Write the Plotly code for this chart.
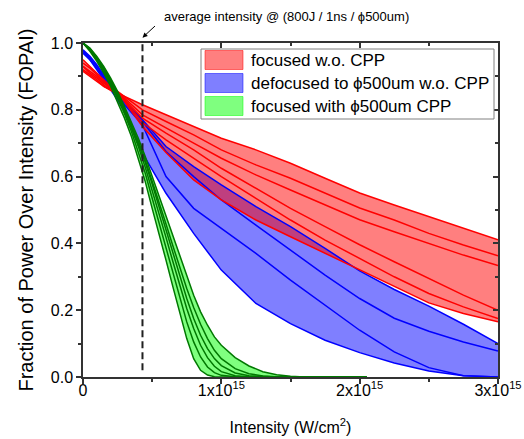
import numpy as np
import plotly.graph_objects as go

# ---------------- data (x in units of 1e15 W/cm^2) ----------------
x_rb = [0, 0.05, 0.1, 0.15, 0.2, 0.25, 0.3, 0.43, 0.6, 0.8, 1.0, 1.25, 1.5, 1.75, 2.0, 2.25, 2.5, 2.75, 3.0]

red_1 = [0.94, 0.925, 0.905, 0.885, 0.865, 0.85, 0.84, 0.815, 0.785, 0.75, 0.715, 0.68, 0.64, 0.595, 0.551, 0.515, 0.48, 0.445, 0.411]
red_2 = [0.95, 0.93, 0.91, 0.89, 0.87, 0.855, 0.84, 0.80, 0.765, 0.725, 0.68, 0.635, 0.595, 0.55, 0.506, 0.47, 0.43, 0.395, 0.363]
red_3 = [0.93, 0.915, 0.90, 0.88, 0.865, 0.85, 0.835, 0.785, 0.745, 0.70, 0.655, 0.605, 0.56, 0.515, 0.471, 0.435, 0.40, 0.365, 0.334]
red_4 = [0.92, 0.905, 0.89, 0.87, 0.86, 0.85, 0.83, 0.775, 0.73, 0.68, 0.625, 0.565, 0.505, 0.45, 0.396, 0.345, 0.295, 0.245, 0.20]
red_5 = [0.93, 0.91, 0.895, 0.875, 0.86, 0.848, 0.828, 0.762, 0.71, 0.655, 0.60, 0.535, 0.47, 0.41, 0.355, 0.30, 0.25, 0.21, 0.175]
red_6 = [0.915, 0.90, 0.885, 0.87, 0.858, 0.848, 0.825, 0.75, 0.672, 0.59, 0.53, 0.47, 0.42, 0.37, 0.32, 0.27, 0.222, 0.19, 0.165]

blue_1 = [0.98, 0.96, 0.935, 0.905, 0.875, 0.85, 0.825, 0.77, 0.69, 0.63, 0.575, 0.51, 0.45, 0.385, 0.318, 0.262, 0.212, 0.158, 0.10]
blue_2 = [0.975, 0.955, 0.93, 0.90, 0.872, 0.848, 0.822, 0.765, 0.675, 0.60, 0.53, 0.455, 0.38, 0.305, 0.235, 0.176, 0.137, 0.105, 0.078]
blue_3 = [0.97, 0.95, 0.925, 0.895, 0.868, 0.842, 0.815, 0.755, 0.60, 0.505, 0.445, 0.37, 0.29, 0.215, 0.14, 0.075, 0.028, 0.004, 0.0]
blue_4 = [0.97, 0.95, 0.92, 0.89, 0.86, 0.83, 0.795, 0.67, 0.55, 0.43, 0.32, 0.22, 0.16, 0.11, 0.073, 0.042, 0.018, 0.004, 0.0]

x_g = [0, 0.05, 0.1, 0.15, 0.2, 0.25, 0.3, 0.35, 0.4, 0.45, 0.5, 0.55, 0.6, 0.65, 0.7, 0.75, 0.8, 0.85, 0.9, 0.95,
       1.0, 1.1, 1.2, 1.3, 1.4, 1.5, 1.6, 1.8, 2.05]
green_1 = [1.0, 0.975, 0.945, 0.91, 0.87, 0.825, 0.775, 0.72, 0.655, 0.585, 0.505, 0.43, 0.35, 0.27, 0.19, 0.115, 0.055, 0.02, 0.006, 0.001,
           0, 0, 0, 0, 0, 0, 0, 0, 0]
green_2 = [1.0, 0.978, 0.95, 0.915, 0.877, 0.835, 0.788, 0.735, 0.675, 0.61, 0.535, 0.46, 0.385, 0.31, 0.235, 0.165, 0.105, 0.06, 0.03, 0.013,
           0.005, 0.001, 0, 0, 0, 0, 0, 0, 0]
green_3 = [1.0, 0.98, 0.952, 0.92, 0.882, 0.84, 0.795, 0.745, 0.69, 0.628, 0.56, 0.49, 0.418, 0.345, 0.275, 0.205, 0.145, 0.095, 0.058, 0.032,
           0.016, 0.004, 0.001, 0, 0, 0, 0, 0, 0]
green_4 = [1.0, 0.982, 0.955, 0.923, 0.886, 0.845, 0.80, 0.752, 0.70, 0.642, 0.578, 0.51, 0.44, 0.37, 0.30, 0.235, 0.175, 0.125, 0.085, 0.055,
           0.034, 0.012, 0.004, 0.001, 0, 0, 0, 0, 0]
green_5 = [1.0, 0.983, 0.957, 0.926, 0.89, 0.85, 0.805, 0.758, 0.706, 0.65, 0.588, 0.524, 0.458, 0.392, 0.328, 0.265, 0.208, 0.158, 0.115, 0.08,
           0.055, 0.025, 0.01, 0.003, 0.001, 0, 0, 0, 0]
green_6 = [1.0, 0.985, 0.96, 0.93, 0.895, 0.855, 0.81, 0.765, 0.715, 0.66, 0.60, 0.54, 0.48, 0.42, 0.36, 0.30, 0.245, 0.195, 0.155, 0.12,
           0.095, 0.058, 0.033, 0.016, 0.007, 0.002, 0, 0, 0]

avg_intensity = 0.43
x_tickvals = [0, 1, 2, 3]
x_ticktext = ["0", "1x10<sup>15</sup>", "2x10<sup>15</sup>", "3x10<sup>15</sup>"]
y_tickvals = [0.0, 0.2, 0.4, 0.6, 0.8, 1.0]

legend_labels = ["focused w.o. CPP", "defocused to \u03d5500um w.o. CPP", "focused with \u03d5500um CPP"]
legend_colors = ["rgba(255,0,0,0.5)", "rgba(0,0,255,0.5)", "rgba(0,255,0,0.5)"]

groups = [
    (x_rb, [blue_1, blue_2, blue_3, blue_4], "#0000FF", "rgba(0,0,255,0.5)"),
    (x_rb, [red_1, red_2, red_3, red_4, red_5, red_6], "#FF0000", "rgba(255,0,0,0.5)"),
    (x_g, [green_1, green_2, green_3, green_4, green_5, green_6], "#007800", "rgba(0,255,0,0.5)"),
]

FONT = "Arial, 'Liberation Sans', sans-serif"
fig = go.Figure()

# bands
for xs, lines, lc, fc in groups:
    arr = np.array(lines)
    upper = arr.max(axis=0)
    lower = arr.min(axis=0)
    fig.add_trace(go.Scatter(
        x=list(xs) + list(xs)[::-1], y=list(upper) + list(lower)[::-1],
        fill="toself", fillcolor=fc, mode="lines", line=dict(width=0, color=fc),
        showlegend=False, hoverinfo="skip"))

# lines
for xs, lines, lc, fc in groups:
    for ys in lines:
        fig.add_trace(go.Scatter(x=xs, y=ys, mode="lines", line=dict(color=lc, width=1.5),
                                 showlegend=False, hoverinfo="skip"))

# dummy for mirrored axes
fig.add_trace(go.Scatter(x=[None], y=[None], xaxis="x2", yaxis="y2", showlegend=False, hoverinfo="skip"))

fig.add_shape(type="line", xref="x", yref="y", x0=avg_intensity, x1=avg_intensity, y0=0.02, y1=1.0,
              line=dict(color="#202020", width=2, dash="7px,4px"))

# ---- custom legend (paper coords; plot area 83..498 x, 43..377 y in px) ----
PW, PH, L, T = 415.0, 334.0, 83.0, 43.0
def px2paper(px, py):
    return (px - L) / PW, 1 - (py - T) / PH

bx0, by0 = px2paper(201, 119)
bx1, by1 = px2paper(494, 49)
fig.add_shape(type="rect", xref="paper", yref="paper", x0=bx0, y0=by0, x1=bx1, y1=by1,
              fillcolor="white", line=dict(color="#808080", width=1), layer="above")
annotations = []
row_centers = [60, 83, 106]
for lab, col, rc in zip(legend_labels, legend_colors, row_centers):
    sx0, sy0 = px2paper(205, rc + 9.5)
    sx1, sy1 = px2paper(243, rc - 9.5)
    fig.add_shape(type="rect", xref="paper", yref="paper", x0=sx0, y0=sy0, x1=sx1, y1=sy1,
                  fillcolor=col, line=dict(color=col, width=1), layer="above")
    tx, ty = px2paper(249, rc)
    annotations.append(dict(text=lab, xref="paper", yref="paper", x=tx, y=ty, xanchor="left",
                            yanchor="middle", showarrow=False, font=dict(size=17, color="black")))

axis_common = dict(showline=True, linecolor="#333333", linewidth=1.5, showgrid=False, zeroline=False,
                   tickcolor="#333333", tickwidth=1.5, automargin=False)

annotations += [
    dict(text="average intensity @ (800J / 1ns / \u03d5500um)", xref="paper", yref="paper",
         x=0.19, y=1.079, xanchor="left", yanchor="middle", showarrow=False,
         font=dict(size=13, color="black")),
    dict(text="", xref="x", yref="paper", x=avg_intensity, y=1.016, ax=14, ay=-13,
         showarrow=True, arrowhead=2, arrowsize=1, arrowwidth=1, arrowcolor="black"),
]

fig.update_layout(
    width=524, height=439,
    margin=dict(l=83, r=26, t=43, b=62),
    paper_bgcolor="white", plot_bgcolor="white",
    font=dict(family=FONT, color="black", size=16),
    showlegend=False,
    xaxis=dict(range=[0, 3], tickvals=x_tickvals, ticktext=x_ticktext, ticks="outside", ticklen=5,
               ticklabelstandoff=-7,
               minor=dict(ticks="outside", ticklen=3, dtick=0.5, tickcolor="#333333", tickwidth=1.5),
               title=dict(text="Intensity (W/cm<sup>2</sup>)", font=dict(size=16), standoff=24),
               tickfont=dict(size=16), **axis_common),
    yaxis=dict(range=[0, 1.0], tickvals=y_tickvals, tickformat=".1f", ticks="outside", ticklen=5,
               minor=dict(ticks="outside", ticklen=3, dtick=0.1, tickcolor="#333333", tickwidth=1.5),
               title=dict(text="Fraction of Power Over Intensity (FOPAI)", font=dict(size=20), standoff=12),
               tickfont=dict(size=16), **axis_common),
    xaxis2=dict(overlaying="x", side="top", anchor="y", range=[0, 3], tickvals=x_tickvals,
                showticklabels=False, ticks="inside", ticklen=5,
                minor=dict(ticks="inside", ticklen=3, dtick=0.5, tickcolor="#333333", tickwidth=1.5),
                **axis_common),
    yaxis2=dict(overlaying="y", side="right", anchor="x", range=[0, 1.0], tickvals=y_tickvals,
                showticklabels=False, ticks="inside", ticklen=5,
                minor=dict(ticks="inside", ticklen=3, dtick=0.1, tickcolor="#333333", tickwidth=1.5),
                **axis_common),
    annotations=annotations,
)

fig.write_html("out.html")
